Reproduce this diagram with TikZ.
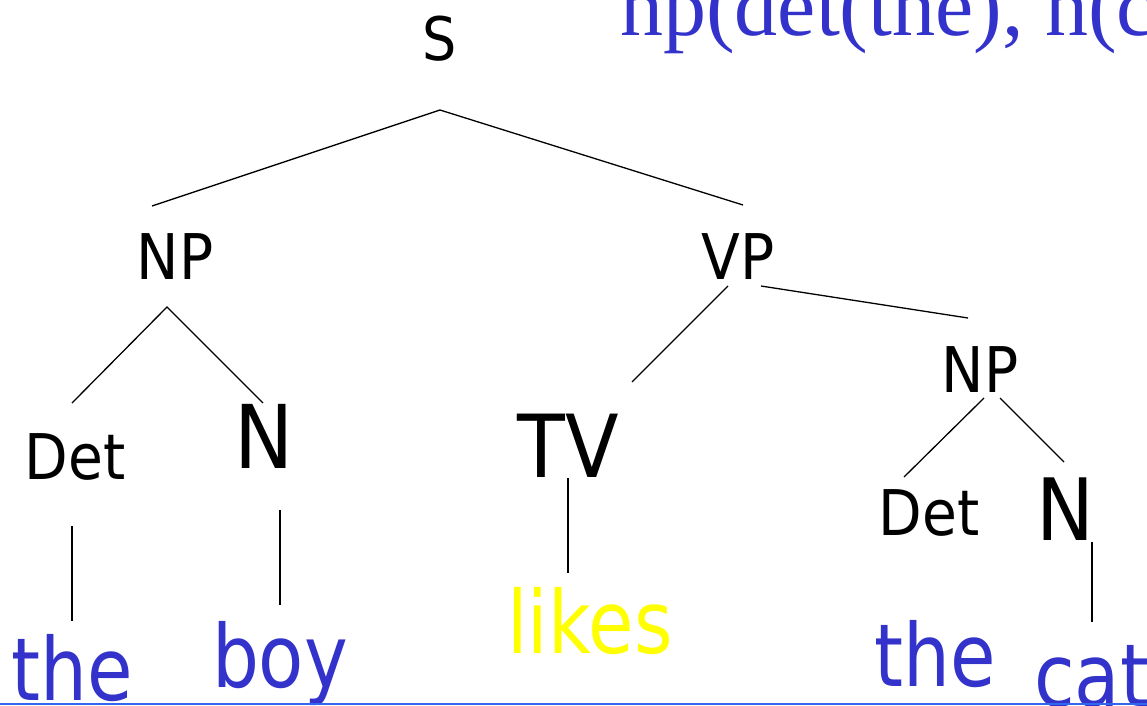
\documentclass[tikz,border=0pt]{standalone}
\usepackage{fontspec}
\setmainfont{DejaVu Sans}[FakeStretch=0.85]
\newfontfamily\lblfont{DejaVu Sans}[FakeStretch=0.9]
\newfontfamily\tms{Liberation Serif}
\definecolor{wblue}{HTML}{3333CC}
\definecolor{lblue}{HTML}{3366EE}
\definecolor{wyel}{HTML}{FFFF00}
\tikzset{
  lab/.style={anchor=base, inner sep=0pt, font=\lblfont\fontsize{63}{70}\selectfont},
  big/.style={anchor=base, inner sep=0pt, font=\lblfont\fontsize{88}{96}\selectfont},
  word/.style={anchor=base, inner sep=0pt, text=wblue, font=\fontsize{87}{96}\selectfont},
  edge/.style={line width=1.3pt, black},
}
\begin{document}
\begin{tikzpicture}[x=1pt,y=-1pt]
\useasboundingbox (0,0) rectangle (1147,705);
\clip (0,0) rectangle (1147,705);
% title text
\node[anchor=base west, inner sep=0pt, text=wblue, font=\tms\fontsize{86}{90}\selectfont] (title) at (620,35) {np(det(the), n(c};
% labels
\node[lab, font=\lblfont\fontsize{60}{66}\selectfont] (S) at (440,60) {S};
\node[lab] (NPa) at (175,279) {NP};
\node[lab] (VP) at (738,279) {VP};
\node[lab] (Deta) at (75,479) {Det};
\node[big] (Na) at (264,468) {N};
\node[big, font=\lblfont\fontsize{87}{96}\selectfont] (TV) at (568,477) {TV};
\node[lab] (NPb) at (980,392) {NP};
\node[lab] (Detb) at (929,535) {Det};
\node[big, font=\lblfont\fontsize{86}{96}\selectfont] (Nb) at (1065,540) {N};
% words
\node[word] (the1) at (72,700) {the};
\node[word] (boy) at (280,687) {boy};
\node[word, text=wyel] (likes) at (590,653) {likes};
\node[word] (the2) at (935,686) {the};
\node[word, anchor=base west] (cat) at (1034,706) {cat};
% connector end points
\coordinate (S-b) at (440,110);
\coordinate (NPa-t) at (152,206);
\coordinate (VP-t) at (743,205);
\coordinate (NPa-b) at (167,307);
\coordinate (Deta-t) at (72,403);
\coordinate (Na-t) at (263,403);
\coordinate (VP-bl) at (728,286);
\coordinate (VP-br) at (761,286);
\coordinate (TV-t) at (632,382);
\coordinate (NPb-t) at (968,318);
\coordinate (NPb-bl) at (984,398);
\coordinate (NPb-br) at (1000,398);
\coordinate (Detb-t) at (904,477);
\coordinate (Nb-t) at (1064,462);
\coordinate (Deta-b) at (72,526);
\coordinate (the1-t) at (72,621);
\coordinate (Na-b) at (280,510);
\coordinate (boy-t) at (280,605);
\coordinate (TV-b) at (568,478);
\coordinate (likes-t) at (568,573);
\coordinate (Nb-b) at (1092,542);
\coordinate (cat-t) at (1092,622);
% connectors
\draw[edge] (NPa-t) -- (S-b) -- (VP-t);
\draw[edge] (Deta-t) -- (NPa-b) -- (Na-t);
\draw[edge] (VP-bl) -- (TV-t);
\draw[edge] (VP-br) -- (NPb-t);
\draw[edge] (NPb-bl) -- (Detb-t);
\draw[edge] (NPb-br) -- (Nb-t);
\draw[edge] (Deta-b) -- (the1-t);
\draw[edge] (Na-b) -- (boy-t);
\draw[edge] (TV-b) -- (likes-t);
\draw[edge] (Nb-b) -- (cat-t);
% bottom rule
\coordinate (rule-l) at (0,703.5);
\coordinate (rule-r) at (1147,703.5);
\draw[lblue, line width=2pt] (rule-l) -- (rule-r);
\end{tikzpicture}
\end{document}
